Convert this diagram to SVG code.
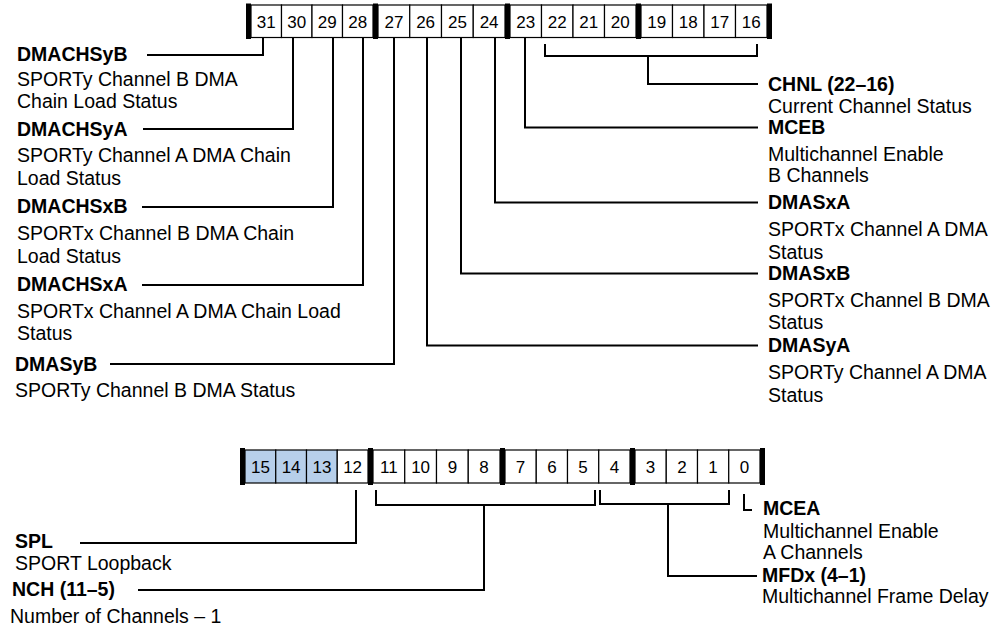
<svg xmlns="http://www.w3.org/2000/svg" width="994" height="630" viewBox="0 0 994 630">
<style>
.bg{fill:#fff}
.cell{fill:#fff;stroke:#000;stroke-width:1.2}
.blue{fill:#b7cfea}
.bar{fill:#000}
.num{font-family:"Liberation Sans",Arial,sans-serif;font-size:17px;fill:#000;text-anchor:middle}
.lbl{font-family:"Liberation Sans",Arial,sans-serif;font-size:19.5px;font-weight:bold;fill:#000}
.dsc{font-family:"Liberation Sans",Arial,sans-serif;font-size:19.5px;fill:#000}
.ln{fill:none;stroke:#000;stroke-width:2}
</style>
<rect class="bg" x="0" y="0" width="994" height="630"/>

<g id="reg-top">
  <rect class="cell" x="251" y="5" width="30.5" height="32.5"/>
  <rect class="cell" x="281.5" y="5" width="30.5" height="32.5"/>
  <rect class="cell" x="312" y="5" width="30.5" height="32.5"/>
  <rect class="cell" x="342.5" y="5" width="30.5" height="32.5"/>
  <rect class="cell" x="378" y="5" width="31.75" height="32.5"/>
  <rect class="cell" x="409.75" y="5" width="31.75" height="32.5"/>
  <rect class="cell" x="441.5" y="5" width="31.75" height="32.5"/>
  <rect class="cell" x="473.25" y="5" width="31.75" height="32.5"/>
  <rect class="cell" x="510" y="5" width="31.5" height="32.5"/>
  <rect class="cell" x="541.5" y="5" width="31.5" height="32.5"/>
  <rect class="cell" x="573" y="5" width="31.5" height="32.5"/>
  <rect class="cell" x="604.5" y="5" width="31.5" height="32.5"/>
  <rect class="cell" x="641" y="5" width="31.5" height="32.5"/>
  <rect class="cell" x="672.5" y="5" width="31.5" height="32.5"/>
  <rect class="cell" x="704" y="5" width="31.5" height="32.5"/>
  <rect class="cell" x="735.5" y="5" width="31.5" height="32.5"/>
  <rect class="bar" x="246" y="3.5" width="5" height="35.5"/>
  <rect class="bar" x="373" y="3.5" width="5" height="35.5"/>
  <rect class="bar" x="505" y="3.5" width="5" height="35.5"/>
  <rect class="bar" x="636" y="3.5" width="5" height="35.5"/>
  <rect class="bar" x="767" y="3.5" width="5" height="35.5"/>
  <text class="num" x="266.3" y="28">31</text>
  <text class="num" x="296.8" y="28">30</text>
  <text class="num" x="327.3" y="28">29</text>
  <text class="num" x="357.8" y="28">28</text>
  <text class="num" x="393.9" y="28">27</text>
  <text class="num" x="425.6" y="28">26</text>
  <text class="num" x="457.4" y="28">25</text>
  <text class="num" x="489.1" y="28">24</text>
  <text class="num" x="525.8" y="28">23</text>
  <text class="num" x="557.3" y="28">22</text>
  <text class="num" x="588.8" y="28">21</text>
  <text class="num" x="620.3" y="28">20</text>
  <text class="num" x="656.8" y="28">19</text>
  <text class="num" x="688.3" y="28">18</text>
  <text class="num" x="719.8" y="28">17</text>
  <text class="num" x="751.3" y="28">16</text>
</g>

<g id="reg-bottom">
  <rect class="cell blue" x="245" y="450" width="30.75" height="33"/>
  <rect class="cell blue" x="275.75" y="450" width="30.75" height="33"/>
  <rect class="cell blue" x="306.5" y="450" width="30.75" height="33"/>
  <rect class="cell" x="337.25" y="450" width="30.75" height="33"/>
  <rect class="cell" x="373" y="450" width="31.75" height="33"/>
  <rect class="cell" x="404.75" y="450" width="31.75" height="33"/>
  <rect class="cell" x="436.5" y="450" width="31.75" height="33"/>
  <rect class="cell" x="468.25" y="450" width="31.75" height="33"/>
  <rect class="cell" x="505" y="450" width="31.25" height="33"/>
  <rect class="cell" x="536.25" y="450" width="31.25" height="33"/>
  <rect class="cell" x="567.5" y="450" width="31.25" height="33"/>
  <rect class="cell" x="598.75" y="450" width="31.25" height="33"/>
  <rect class="cell" x="635" y="450" width="31.25" height="33"/>
  <rect class="cell" x="666.25" y="450" width="31.25" height="33"/>
  <rect class="cell" x="697.5" y="450" width="31.25" height="33"/>
  <rect class="cell" x="728.75" y="450" width="31.25" height="33"/>
  <rect class="bar" x="240" y="448" width="5" height="37"/>
  <rect class="bar" x="368" y="448" width="5" height="37"/>
  <rect class="bar" x="500" y="448" width="5" height="37"/>
  <rect class="bar" x="630" y="448" width="5" height="37"/>
  <rect class="bar" x="760" y="448" width="5" height="37"/>
  <text class="num" x="260.4" y="472.5">15</text>
  <text class="num" x="291.1" y="472.5">14</text>
  <text class="num" x="321.9" y="472.5">13</text>
  <text class="num" x="352.6" y="472.5">12</text>
  <text class="num" x="388.9" y="472.5">11</text>
  <text class="num" x="420.6" y="472.5">10</text>
  <text class="num" x="452.4" y="472.5">9</text>
  <text class="num" x="484.1" y="472.5">8</text>
  <text class="num" x="520.6" y="472.5">7</text>
  <text class="num" x="551.9" y="472.5">6</text>
  <text class="num" x="583.1" y="472.5">5</text>
  <text class="num" x="614.4" y="472.5">4</text>
  <text class="num" x="650.6" y="472.5">3</text>
  <text class="num" x="681.9" y="472.5">2</text>
  <text class="num" x="713.1" y="472.5">1</text>
  <text class="num" x="744.4" y="472.5">0</text>
</g>

<g id="connectors">
  <polyline class="ln" points="263,38 263,55 147,55"/>
  <polyline class="ln" points="293,38 293,129 143,129"/>
  <polyline class="ln" points="333,38 333,207 142,207"/>
  <polyline class="ln" points="363,38 363,285 142,285"/>
  <polyline class="ln" points="394,38 394,364 110,364"/>
  <polyline class="ln" points="427,38 427,345.5 758,345.5"/>
  <polyline class="ln" points="461,38 461,273.5 758,273.5"/>
  <polyline class="ln" points="495,38 495,202.5 758,202.5"/>
  <polyline class="ln" points="525,38 525,127.5 758,127.5"/>
  <polyline class="ln" points="545,44 545,56 757,56 757,44"/>
  <polyline class="ln" points="648,56 648,84 758,84"/>
  <polyline class="ln" points="356,490 356,543 80,543"/>
  <polyline class="ln" points="376,490 376,505 595,505 595,490"/>
  <polyline class="ln" points="484,505 484,590 138,590"/>
  <polyline class="ln" points="600,490 600,504 729,504 729,490"/>
  <polyline class="ln" points="668,504 668,576 757,576"/>
  <polyline class="ln" points="744,494 744,510 752,510"/>
</g>

<g id="DMACHSyB"><text class="lbl" x="17" y="61">DMACHSyB</text><text class="dsc" x="17" y="86">SPORTy Channel B DMA</text><text class="dsc" x="17" y="108">Chain Load Status</text></g>
<g id="DMACHSyA"><text class="lbl" x="17" y="136">DMACHSyA</text><text class="dsc" x="17" y="162">SPORTy Channel A DMA Chain</text><text class="dsc" x="17" y="185">Load Status</text></g>
<g id="DMACHSxB"><text class="lbl" x="17" y="213">DMACHSxB</text><text class="dsc" x="17" y="240">SPORTx Channel B DMA Chain</text><text class="dsc" x="17" y="263">Load Status</text></g>
<g id="DMACHSxA"><text class="lbl" x="17" y="291">DMACHSxA</text><text class="dsc" x="17" y="318">SPORTx Channel A DMA Chain Load</text><text class="dsc" x="17" y="340">Status</text></g>
<g id="DMASyB"><text class="lbl" x="15" y="371">DMASyB</text><text class="dsc" x="15" y="397">SPORTy Channel B DMA Status</text></g>

<g id="CHNL"><text class="lbl" x="768" y="91">CHNL (22–16)</text><text class="dsc" x="768" y="112.5">Current Channel Status</text></g>
<g id="MCEB"><text class="lbl" x="768" y="134">MCEB</text><text class="dsc" x="768" y="160.5">Multichannel Enable</text><text class="dsc" x="768" y="182">B Channels</text></g>
<g id="DMASxA"><text class="lbl" x="768" y="209">DMASxA</text><text class="dsc" x="768" y="236">SPORTx Channel A DMA</text><text class="dsc" x="768" y="259">Status</text></g>
<g id="DMASxB"><text class="lbl" x="768" y="280">DMASxB</text><text class="dsc" x="768" y="306.5">SPORTx Channel B DMA</text><text class="dsc" x="768" y="329">Status</text></g>
<g id="DMASyA"><text class="lbl" x="768" y="352">DMASyA</text><text class="dsc" x="768" y="379">SPORTy Channel A DMA</text><text class="dsc" x="768" y="402">Status</text></g>

<g id="SPL"><text class="lbl" x="15" y="548">SPL</text><text class="dsc" x="15" y="570">SPORT Loopback</text></g>
<g id="NCH"><text class="lbl" x="12" y="596">NCH (11–5)</text><text class="dsc" x="10" y="623">Number of Channels – 1</text></g>
<g id="MCEA"><text class="lbl" x="763" y="515">MCEA</text><text class="dsc" x="763" y="538">Multichannel Enable</text><text class="dsc" x="763" y="559">A Channels</text></g>
<g id="MFDx"><text class="lbl" x="762" y="582">MFDx (4–1)</text><text class="dsc" x="762" y="603">Multichannel Frame Delay</text></g>
</svg>
